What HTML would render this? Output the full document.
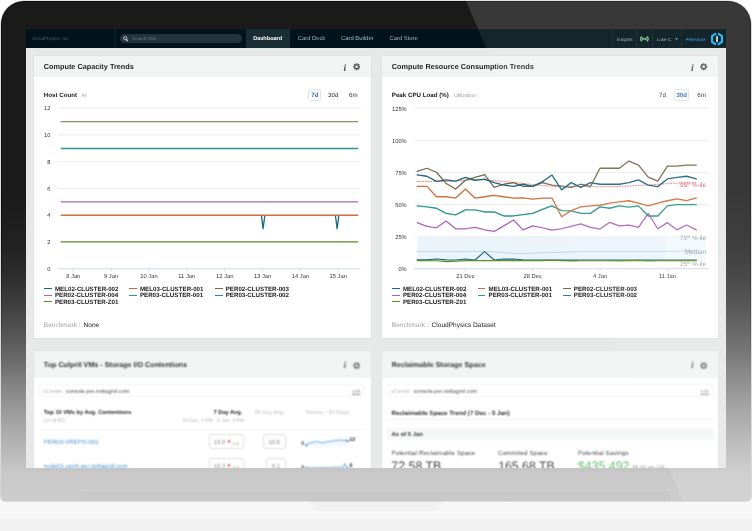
<!DOCTYPE html>
<html lang="en">
<head>
<meta charset="utf-8">
<title>CloudPhysics Dashboard</title>
<style>
html,body{margin:0;padding:0}
body{width:752px;height:531px;overflow:hidden;position:relative;background:#fff;
 font-family:"Liberation Sans",sans-serif;text-rendering:geometricPrecision;-webkit-font-smoothing:antialiased}
.abs,.t{position:absolute}
.t{white-space:nowrap}
#floor{left:0;top:470px;width:752px;height:61px;background:linear-gradient(#f7f7f7 0,#f7f7f7 48.5px,#f1f1f1 49.5px,#f1f1f1 61px)}
#foot{left:311px;top:500px;width:130px;height:11px;background:#f1f1f1;border-radius:0 0 8px 8px}
#laptop{left:1px;top:1px;width:750px;height:500px;box-sizing:border-box;border-radius:23px 23px 4px 4px;overflow:hidden;box-shadow:0 0 0 .6px rgba(140,140,140,.5);
 background:linear-gradient(to bottom,#1a1a1a 0px,#1a1a1a 188px,#222222 246px,#2d2d2d 274px,#404040 306px,#535353 331px,#686868 356px,#808080 381px,#979797 406px,#ababab 431px,#bdbdbd 456px,#c7c7c7 470px,#cbcbcb 482px,#cccccc 499px)}
#rim{left:0;top:0;width:750px;height:500px;box-sizing:border-box;border-radius:23px 23px 4px 4px;border:1px solid rgba(0,0,0,.6);-webkit-mask-image:linear-gradient(to bottom,#000 0,#000 40%,transparent 75%);mask-image:linear-gradient(to bottom,#000 0,#000 40%,transparent 75%)}
#lip{left:79px;top:490px;width:591px;height:10px;background:rgba(0,0,0,.018);box-shadow:0 -0.5px 0 rgba(255,255,255,.25);border-radius:3px 3px 0 0}
#screen{left:25.5px;top:29px;width:700.5px;height:439px;overflow:hidden;background:#e7e9e8}
#in{left:-25.5px;top:-29px;width:752px;height:531px;will-change:transform}
#nav{left:25.5px;top:29px;width:700.5px;height:18.8px;background:#01131a}
.card{background:#fff;border-radius:1.5px;overflow:hidden;box-shadow:0 0 0 1px rgba(0,0,0,.022)}
.chead{left:0;top:0;right:0;height:20px;background:#f2f4f3}
.box{box-sizing:border-box;border:1px solid #e7e7e7;border-radius:2px;background:#fff}
#glare{left:0;top:0;width:752px;height:531px;pointer-events:none}
</style>
</head>
<body>
<svg width="0" height="0" style="position:absolute"><defs><filter id="soft" x="0" y="0" width="100%" height="100%" color-interpolation-filters="sRGB"><feConvolveMatrix order="3" kernelMatrix="1 2 1 2 4 2 1 2 1" divisor="16" edgeMode="duplicate" preserveAlpha="false"/></filter></defs></svg>
<div id="floor" class="abs"></div>
<div id="foot" class="abs"></div>
<div id="laptop" class="abs">
  <div id="rim" class="abs"></div>
  <div id="lip" class="abs"></div>
</div>
<div id="screen" class="abs"><div id="in" class="abs">
<div id="nav" class="abs"></div><div class="abs" style="left:25.5px;top:29px;width:700.5px;height:1px;background:rgba(27,27,27,.45)"></div><div class="abs" style="left:114.2px;top:29px;width:1.6px;height:18.5px;background:#0a1e26"></div><div class="t" style="left:32px;top:36px;font-size:4.6px;line-height:6px;color:#4c5d66;">CloudPhysics, Inc.</div><div class="abs" style="left:119.5px;top:33.6px;width:122px;height:9.6px;border-radius:5px;background:#22343c"></div><svg class="abs" style="left:122.6px;top:36.0px" width="5.9" height="5.9" viewBox="0 0 13 13"><circle cx="5" cy="5" r="3.6" fill="none" stroke="#dfe6ea" stroke-width="1.9"/><path d="M7.8 7.8L11.6 11.6" stroke="#dfe6ea" stroke-width="2.3" stroke-linecap="round"/></svg><div class="t" style="left:132.3px;top:36px;font-size:4.4px;line-height:6px;color:#68798a;">Search VMs</div><div class="abs" style="left:246px;top:29px;width:44px;height:18.5px;background:#1a2c34"></div><div class="t" style="left:253.2px;top:36px;font-size:5.55px;line-height:7px;font-weight:bold;color:#fff;">Dashboard</div><div class="t" style="left:297.8px;top:35px;font-size:5.8px;line-height:8px;color:#aeb9bf;">Card Deck</div><div class="t" style="left:340.9px;top:35px;font-size:5.9px;line-height:8px;color:#aeb9bf;">Card Builder</div><div class="t" style="left:389.6px;top:35px;font-size:5.8px;line-height:8px;color:#aeb9bf;">Card Store</div><div class="abs" style="left:612.4px;top:29px;width:1px;height:18.5px;background:#0d2028"></div><div class="abs" style="left:636.0px;top:29px;width:1px;height:18.5px;background:#0d2028"></div><div class="abs" style="left:652.3px;top:29px;width:1px;height:18.5px;background:#0d2028"></div><div class="abs" style="left:681.3px;top:29px;width:1px;height:18.5px;background:#0d2028"></div><div class="t" style="left:616.8px;top:37px;font-size:4.6px;line-height:6px;color:#9ba7ae;">Insights</div><svg class="abs" style="left:640.4px;top:36.4px" width="8.8" height="5.8" viewBox="0 0 88 58"><g fill="none" stroke="#7cc68a" stroke-width="13" stroke-linecap="round"><path d="M14 8C4 22 4 36 14 50"/><path d="M74 8C84 22 84 36 74 50"/></g><path d="M22 10L44 26L66 10V48L44 32L22 48Z" fill="#7cc68a"/></svg><div class="t" style="left:656.9px;top:37px;font-size:4.45px;line-height:6px;color:#9ba7ae;">Luke C.</div><svg class="abs" style="left:674.8px;top:38.4px" width="3" height="2.4" viewBox="0 0 30 24"><path d="M0 0H30L15 24Z" fill="#2d93df"/></svg><div class="t" style="left:685.8px;top:37px;font-size:4.2px;line-height:5px;color:#2a9ff0;">PREMIUM</div><svg class="abs" style="left:709.3px;top:31.3px" width="16" height="16" viewBox="-8 -8 16 16"><g fill="none" stroke="#19b4ee" stroke-width="2.1"><path d="M-0.9 -5.5L-4.95 -3V3L-0.9 5.5"/><path d="M0.9 -5.5L4.95 -3V3L0.9 5.5"/></g><rect x="-0.85" y="-2.9" width="1.7" height="6" fill="#c4ecff"/></svg><div class="abs card" style="left:33.8px;top:56px;width:337.2px;height:282.3px"><div class="abs chead" style="height:20.6px"></div></div><div class="t" style="left:43.8px;top:62px;font-size:7.3px;line-height:9px;font-weight:bold;color:#1f1f1f;">Compute Capacity Trends</div><div class="t" style="left:343.4px;top:62px;font-size:9.6px;line-height:13px;font-family:'Liberation Serif',serif;font-style:italic;font-weight:bold;color:#4a4a4a;">i</div><svg class="abs" style="left:352.9px;top:63.2px" width="7.4" height="7.4" viewBox="0 0 16 16"><g fill="#5a5a5a"><circle cx="8" cy="8" r="5.5"/><rect x="6.3" y="0.3" width="3.4" height="3.6" rx=".5" transform="rotate(0 8 8)"/><rect x="6.3" y="0.3" width="3.4" height="3.6" rx=".5" transform="rotate(45 8 8)"/><rect x="6.3" y="0.3" width="3.4" height="3.6" rx=".5" transform="rotate(90 8 8)"/><rect x="6.3" y="0.3" width="3.4" height="3.6" rx=".5" transform="rotate(135 8 8)"/><rect x="6.3" y="0.3" width="3.4" height="3.6" rx=".5" transform="rotate(180 8 8)"/><rect x="6.3" y="0.3" width="3.4" height="3.6" rx=".5" transform="rotate(225 8 8)"/><rect x="6.3" y="0.3" width="3.4" height="3.6" rx=".5" transform="rotate(270 8 8)"/><rect x="6.3" y="0.3" width="3.4" height="3.6" rx=".5" transform="rotate(315 8 8)"/></g><circle cx="8" cy="8" r="2.8" fill="#f2f4f3"/></svg><div class="abs card" style="left:381.8px;top:56px;width:336.7px;height:282.3px"><div class="abs chead" style="height:20.6px"></div></div><div class="t" style="left:391.8px;top:62px;font-size:7.3px;line-height:9px;font-weight:bold;color:#1f1f1f;">Compute Resource Consumption Trends</div><div class="t" style="left:690.9px;top:62px;font-size:9.6px;line-height:13px;font-family:'Liberation Serif',serif;font-style:italic;font-weight:bold;color:#4a4a4a;">i</div><svg class="abs" style="left:700.4px;top:63.2px" width="7.4" height="7.4" viewBox="0 0 16 16"><g fill="#5a5a5a"><circle cx="8" cy="8" r="5.5"/><rect x="6.3" y="0.3" width="3.4" height="3.6" rx=".5" transform="rotate(0 8 8)"/><rect x="6.3" y="0.3" width="3.4" height="3.6" rx=".5" transform="rotate(45 8 8)"/><rect x="6.3" y="0.3" width="3.4" height="3.6" rx=".5" transform="rotate(90 8 8)"/><rect x="6.3" y="0.3" width="3.4" height="3.6" rx=".5" transform="rotate(135 8 8)"/><rect x="6.3" y="0.3" width="3.4" height="3.6" rx=".5" transform="rotate(180 8 8)"/><rect x="6.3" y="0.3" width="3.4" height="3.6" rx=".5" transform="rotate(225 8 8)"/><rect x="6.3" y="0.3" width="3.4" height="3.6" rx=".5" transform="rotate(270 8 8)"/><rect x="6.3" y="0.3" width="3.4" height="3.6" rx=".5" transform="rotate(315 8 8)"/></g><circle cx="8" cy="8" r="2.8" fill="#f2f4f3"/></svg><div class="t" style="left:43.8px;top:92px;font-size:6.2px;line-height:8px;font-weight:bold;color:#1c1c1c;">Host Count</div><div class="t" style="left:81.5px;top:93px;font-size:4.6px;line-height:6px;color:#9a9a9a;">All</div><div class="abs box" style="left:308.35px;top:89px;width:12.5px;height:12px;border-color:#e4e4e4"></div><div class="t" style="left:311.3px;top:92px;font-size:6.1px;line-height:8px;font-weight:bold;color:#2a6fb8;">7d</div><div class="t" style="left:328px;top:92px;font-size:6.2px;line-height:8px;color:#333;">30d</div><div class="t" style="left:349px;top:92px;font-size:6.2px;line-height:8px;color:#333;">6m</div><svg class="abs" style="left:0;top:0" width="752" height="531" viewBox="0 0 752 531" fill="none"><g transform="translate(0 0.45)"><path d="M58 107.5H360.5" stroke="#e7e7e7" stroke-width="0.8"/><path d="M58 134.4H360.5" stroke="#e7e7e7" stroke-width="0.8"/><path d="M58 161.2H360.5" stroke="#e7e7e7" stroke-width="0.8"/><path d="M58 188.0H360.5" stroke="#e7e7e7" stroke-width="0.8"/><path d="M58 214.8H360.5" stroke="#e7e7e7" stroke-width="0.8"/><path d="M58 241.6H360.5" stroke="#e7e7e7" stroke-width="0.8"/><path d="M58 268.3H360.5" stroke="#c9d5e4" stroke-width="0.9"/><path d="M73.25 268.3V270.6" stroke="#c9d5e4" stroke-width="0.9"/><path d="M111.11 268.3V270.6" stroke="#c9d5e4" stroke-width="0.9"/><path d="M148.97 268.3V270.6" stroke="#c9d5e4" stroke-width="0.9"/><path d="M186.83 268.3V270.6" stroke="#c9d5e4" stroke-width="0.9"/><path d="M224.69 268.3V270.6" stroke="#c9d5e4" stroke-width="0.9"/><path d="M262.55 268.3V270.6" stroke="#c9d5e4" stroke-width="0.9"/><path d="M300.41 268.3V270.6" stroke="#c9d5e4" stroke-width="0.9"/><path d="M338.27 268.3V270.6" stroke="#c9d5e4" stroke-width="0.9"/><path d="M261.4 214.81L263.1 228.2L264.9 214.81M335.4 214.81L337.1 228.2L338.9 214.81" stroke="#1b6783" stroke-width="1.3" stroke-linejoin="round"/><path d="M60.75 121.29H358" stroke="#766a45" stroke-width="1.2"/><path d="M60.75 148.01H358" stroke="#2b9687" stroke-width="1.5"/><path d="M60.75 201.45H358" stroke="#b05fbb" stroke-width="1.15"/><path d="M60.75 214.81H358" stroke="#d06f3b" stroke-width="1.35"/><path d="M60.75 241.53H358" stroke="#5f8f1f" stroke-width="1.25"/></g></svg><div class="t" style="right:701.7px;top:106px;font-size:5.7px;line-height:7px;color:#333;">12</div><div class="t" style="right:701.7px;top:133px;font-size:5.7px;line-height:7px;color:#333;">10</div><div class="t" style="right:701.7px;top:160px;font-size:5.7px;line-height:7px;color:#333;">8</div><div class="t" style="right:701.7px;top:187px;font-size:5.7px;line-height:7px;color:#333;">6</div><div class="t" style="right:701.7px;top:213px;font-size:5.7px;line-height:7px;color:#333;">4</div><div class="t" style="right:701.7px;top:240px;font-size:5.7px;line-height:7px;color:#333;">2</div><div class="t" style="right:701.7px;top:267px;font-size:5.7px;line-height:7px;color:#333;">0</div><div class="t" style="left:-26.75px;width:200px;text-align:center;top:273px;font-size:5.8px;line-height:8px;color:#333;">8 Jan</div><div class="t" style="left:11.11px;width:200px;text-align:center;top:273px;font-size:5.8px;line-height:8px;color:#333;">9 Jan</div><div class="t" style="left:48.97px;width:200px;text-align:center;top:273px;font-size:5.8px;line-height:8px;color:#333;">10 Jan</div><div class="t" style="left:86.83px;width:200px;text-align:center;top:273px;font-size:5.8px;line-height:8px;color:#333;">11 Jan</div><div class="t" style="left:124.69px;width:200px;text-align:center;top:273px;font-size:5.8px;line-height:8px;color:#333;">12 Jan</div><div class="t" style="left:162.55px;width:200px;text-align:center;top:273px;font-size:5.8px;line-height:8px;color:#333;">13 Jan</div><div class="t" style="left:200.41px;width:200px;text-align:center;top:273px;font-size:5.8px;line-height:8px;color:#333;">14 Jan</div><div class="t" style="left:238.27px;width:200px;text-align:center;top:273px;font-size:5.8px;line-height:8px;color:#333;">15 Jan</div><div class="abs" style="left:44.2px;top:288px;width:7.5px;height:1px;background:#1b6783"></div><div class="t" style="left:54.900000000000006px;top:286px;font-size:6.2px;line-height:8px;font-weight:bold;color:#1c1c1c;">MEL02-CLUSTER-002</div><div class="abs" style="left:129.2px;top:288px;width:7.5px;height:1px;background:#d06f3b"></div><div class="t" style="left:139.89999999999998px;top:286px;font-size:6.2px;line-height:8px;font-weight:bold;color:#1c1c1c;">MEL03-CLUSTER-001</div><div class="abs" style="left:215px;top:288px;width:7.5px;height:1px;background:#766a45"></div><div class="t" style="left:225.7px;top:286px;font-size:6.2px;line-height:8px;font-weight:bold;color:#1c1c1c;">PER02-CLUSTER-003</div><div class="abs" style="left:44.2px;top:295px;width:7.5px;height:1px;background:#b05fbb"></div><div class="t" style="left:54.900000000000006px;top:292px;font-size:6.2px;line-height:8px;font-weight:bold;color:#1c1c1c;">PER02-CLUSTER-004</div><div class="abs" style="left:129.2px;top:295px;width:7.5px;height:1px;background:#2b9687"></div><div class="t" style="left:139.89999999999998px;top:292px;font-size:6.2px;line-height:8px;font-weight:bold;color:#1c1c1c;">PER03-CLUSTER-001</div><div class="abs" style="left:215px;top:295px;width:7.5px;height:1px;background:#2f7fb5"></div><div class="t" style="left:225.7px;top:292px;font-size:6.2px;line-height:8px;font-weight:bold;color:#1c1c1c;">PER03-CLUSTER-002</div><div class="abs" style="left:44.2px;top:301px;width:7.5px;height:1px;background:#5f8f1f"></div><div class="t" style="left:54.900000000000006px;top:299px;font-size:6.2px;line-height:8px;font-weight:bold;color:#1c1c1c;">PER03-CLUSTER-Z01</div><div class="t" style="left:43.8px;top:321px;font-size:6.55px;line-height:9px;color:#a3a3a3;">Benchmark :</div><div class="t" style="left:83.6px;top:321px;font-size:6.55px;line-height:9px;color:#222;">None</div><div class="t" style="left:391.8px;top:92px;font-size:6.2px;line-height:8px;font-weight:bold;color:#1c1c1c;">Peak CPU Load (%)</div><div class="t" style="left:454px;top:93px;font-size:5.1px;line-height:7px;color:#9a9a9a;">Utilization</div><div class="t" style="left:659px;top:92px;font-size:6.2px;line-height:8px;color:#333;">7d</div><div class="abs box" style="left:673.85px;top:89px;width:15.5px;height:12px;border-color:#e4e4e4"></div><div class="t" style="left:676.4px;top:92px;font-size:6.1px;line-height:8px;font-weight:bold;color:#2a6fb8;">30d</div><div class="t" style="left:697.3px;top:92px;font-size:6.2px;line-height:8px;color:#333;">6m</div><svg class="abs" style="left:0;top:0" width="752" height="531" viewBox="0 0 752 531" fill="none"><g transform="translate(0 0.45)"><path d="M414.2 107.5H708.8" stroke="#e7e7e7" stroke-width="0.8"/><path d="M414.2 139.9H708.8" stroke="#e7e7e7" stroke-width="0.8"/><path d="M414.2 172.0H708.8" stroke="#e7e7e7" stroke-width="0.8"/><path d="M414.2 204.1H708.8" stroke="#e7e7e7" stroke-width="0.8"/><path d="M414.2 236.2H708.8" stroke="#e7e7e7" stroke-width="0.8"/><rect x="417.2" y="236.3" width="288.4" height="24.3" fill="#ecf4fb"/><rect x="665" y="236.3" width="40.6" height="24.3" fill="#f4f9fd"/><path d="M414.2 268.3H708.8" stroke="#c9d5e4" stroke-width="0.9"/><path d="M465.36 268.3V270.6" stroke="#c9d5e4" stroke-width="0.9"/><path d="M532.70 268.3V270.6" stroke="#c9d5e4" stroke-width="0.9"/><path d="M600.05 268.3V270.6" stroke="#c9d5e4" stroke-width="0.9"/><path d="M667.40 268.3V270.6" stroke="#c9d5e4" stroke-width="0.9"/><path d="M417.2 251.0L426.9 251.0L436.5 251.0L446.1 251.0L455.7 251.0L465.4 251.0L475.0 251.0L484.6 251.0L494.2 251.3L503.8 252.2L513.5 253.0L523.1 253.0L532.7 252.8L542.3 252.3L551.9 252.0L561.6 251.8L571.2 251.5L580.8 251.2L590.4 251.0L600.0 251.0L609.7 251.0L619.3 251.0L628.9 251.0L638.5 251.0L648.2 251.0L657.8 251.0L667.4 251.0L677.0 250.8L686.6 250.5L696.3 250.3" stroke="#b3d4ea" stroke-width="0.85" stroke-linejoin="round" stroke-linecap="round" /><path d="M417.2 181.0L426.9 181.0L436.5 181.0L446.1 181.0L455.7 180.8L465.4 179.6L475.0 179.4L484.6 179.4L494.2 180.2L503.8 181.0L513.5 182.0L523.1 183.0L532.7 184.0L542.3 185.0L551.9 185.8L561.6 186.2L571.2 186.2L580.8 186.2L590.4 186.2L600.0 186.2L609.7 186.2L619.3 186.0L628.9 185.6L638.5 185.0L648.2 184.4L657.8 183.8L667.4 183.2L677.0 182.6L686.6 182.2L696.3 182.2" stroke="#ee6a74" stroke-width="0.85" stroke-linejoin="round" stroke-linecap="round" stroke-dasharray="1.1 1.6" stroke-linecap="butt"/><path d="M417.2 222.2L426.9 225.9L436.5 227.3L446.1 220.6L455.7 228.3L465.4 228.3L475.0 227.0L484.6 229.4L494.2 231.0L503.8 225.4L513.5 219.5L523.1 229.4L532.7 225.4L542.3 227.3L551.9 229.6L561.6 228.3L571.2 225.9L580.8 223.5L590.4 227.0L600.0 228.6L609.7 221.9L619.3 225.4L628.9 224.6L638.5 227.0L648.2 212.9L657.8 228.3L667.4 222.2L677.0 229.4L686.6 224.6L696.3 229.4" stroke="#b05fbb" stroke-width="1.25" stroke-linejoin="round" stroke-linecap="round" /><path d="M417.2 205.4L426.9 206.5L436.5 207.8L446.1 212.9L455.7 214.5L465.4 209.4L475.0 209.4L484.6 211.5L494.2 211.5L503.8 215.5L513.5 215.5L523.1 214.2L532.7 212.9L542.3 209.0L551.9 205.4L561.6 210.2L571.2 210.5L580.8 212.9L590.4 212.9L600.0 206.4L609.7 207.8L619.3 205.4L628.9 206.7L638.5 205.4L648.2 215.5L657.8 215.5L667.4 205.4L677.0 204.1L686.6 204.1L696.3 204.1" stroke="#2b9687" stroke-width="1.35" stroke-linejoin="round" stroke-linecap="round" /><path d="M417.2 185.9L426.9 185.9L436.5 196.3L446.1 196.3L455.7 197.6L465.4 188.6L475.0 197.6L484.6 196.3L494.2 195.0L503.8 196.3L513.5 197.6L523.1 197.5L532.7 198.7L542.3 197.6L551.9 197.6L561.6 216.3L571.2 210.2L580.8 206.5L590.4 205.4L600.0 204.8L609.7 202.7L619.3 201.4L628.9 200.3L638.5 202.7L648.2 205.4L657.8 202.7L667.4 200.3L677.0 198.5L686.6 200.1L696.3 197.4" stroke="#d06f3b" stroke-width="1.35" stroke-linejoin="round" stroke-linecap="round" /><path d="M417.2 171.0L426.9 167.8L436.5 171.8L446.1 183.0L455.7 188.6L465.4 179.8L475.0 177.0L484.6 174.2L494.2 187.0L503.8 183.8L513.5 182.2L523.1 185.9L532.7 185.9L542.3 182.2L551.9 184.6L561.6 185.7L571.2 187.0L580.8 183.8L590.4 186.2L600.0 167.8L609.7 167.8L619.3 167.8L628.9 160.6L638.5 164.6L648.2 176.6L657.8 180.6L667.4 165.7L677.0 165.7L686.6 164.6L696.3 164.6" stroke="#766a45" stroke-width="1.3" stroke-linejoin="round" stroke-linecap="round" /><path d="M417.2 174.5L426.9 175.8L436.5 181.0L446.1 179.5L455.7 180.6L465.4 177.0L475.0 179.8L484.6 178.7L494.2 182.2L503.8 184.6L513.5 186.0L523.1 183.8L532.7 185.9L542.3 181.4L551.9 174.5L561.6 189.4L571.2 182.2L580.8 187.0L590.4 182.2L600.0 183.8L609.7 183.8L619.3 183.8L628.9 182.2L638.5 179.5L648.2 184.6L657.8 186.2L667.4 178.5L677.0 177.0L686.6 175.8L696.3 178.5" stroke="#1b6783" stroke-width="1.35" stroke-linejoin="round" stroke-linecap="round" /><path d="M417.2 259.3L426.9 259.3L436.5 258.6L446.1 259.4L455.7 259.6L465.4 258.6L475.0 259.6L484.6 251.2L494.2 259.6L503.8 258.6L513.5 258.6L523.1 259.4L532.7 259.6L542.3 259.6L551.9 259.6L561.6 259.6L571.2 259.6L580.8 259.6L590.4 259.6L600.0 259.6L609.7 259.6L619.3 259.6L628.9 259.6L638.5 259.6L648.2 259.6L657.8 259.6L667.4 259.6L677.0 259.6L686.6 259.6L696.3 259.6" stroke="#1b6783" stroke-width="1.15" stroke-linejoin="round" stroke-linecap="round" /><path d="M417.2 260.2L426.9 260.2L436.5 260.3L446.1 261.2L455.7 260.6L465.4 260.2L475.0 260.2L484.6 260.2L494.2 260.2L503.8 260.2L513.5 260.2L523.1 260.2L532.7 260.2L542.3 260.2L551.9 259.8L561.6 260.2L571.2 260.4L580.8 260.2L590.4 260.2L600.0 260.3L609.7 260.2L619.3 260.5L628.9 260.2L638.5 259.9L648.2 260.5L657.8 260.2L667.4 260.2L677.0 260.2L686.6 260.2L696.3 260.2" stroke="#5f8f1f" stroke-width="1.25" stroke-linejoin="round" stroke-linecap="round" /></g></svg><div class="t" style="right:345.4px;top:107px;font-size:5.7px;line-height:7px;color:#333;">125%</div><div class="t" style="right:345.4px;top:139px;font-size:5.7px;line-height:7px;color:#333;">100%</div><div class="t" style="right:345.4px;top:171px;font-size:5.7px;line-height:7px;color:#333;">75%</div><div class="t" style="right:345.4px;top:203px;font-size:5.7px;line-height:7px;color:#333;">50%</div><div class="t" style="right:345.4px;top:235px;font-size:5.7px;line-height:7px;color:#333;">25%</div><div class="t" style="right:345.4px;top:267px;font-size:5.7px;line-height:7px;color:#333;">0%</div><div class="t" style="left:365.36px;width:200px;text-align:center;top:273px;font-size:5.8px;line-height:8px;color:#333;">21 Dec</div><div class="t" style="left:432.7px;width:200px;text-align:center;top:273px;font-size:5.8px;line-height:8px;color:#333;">28 Dec</div><div class="t" style="left:500.05px;width:200px;text-align:center;top:273px;font-size:5.8px;line-height:8px;color:#333;">4 Jan</div><div class="t" style="left:567.4px;width:200px;text-align:center;top:273px;font-size:5.8px;line-height:8px;color:#333;">11 Jan</div><div class="t" style="right:46px;top:182px;font-size:6.3px;line-height:8px;color:#e25a66;">95<span style="font-size:3.9px;position:relative;top:-2.1px">th</span> %-ile</div><div class="t" style="right:46px;top:235px;font-size:6.3px;line-height:8px;color:#9aa0a6;">75<span style="font-size:3.9px;position:relative;top:-2.1px">th</span> %-ile</div><div class="t" style="right:46px;top:249px;font-size:6.4px;line-height:8px;color:#9aa0a6;">Median</div><div class="t" style="right:46px;top:261px;font-size:6.3px;line-height:8px;color:#9aa0a6;">25<span style="font-size:3.9px;position:relative;top:-2.1px">th</span> %-ile</div><div class="abs" style="left:392.2px;top:288px;width:7.5px;height:1px;background:#1b6783"></div><div class="t" style="left:402.9px;top:286px;font-size:6.2px;line-height:8px;font-weight:bold;color:#1c1c1c;">MEL02-CLUSTER-002</div><div class="abs" style="left:477.9px;top:288px;width:7.5px;height:1px;background:#d06f3b"></div><div class="t" style="left:488.59999999999997px;top:286px;font-size:6.2px;line-height:8px;font-weight:bold;color:#1c1c1c;">MEL03-CLUSTER-001</div><div class="abs" style="left:563.1px;top:288px;width:7.5px;height:1px;background:#766a45"></div><div class="t" style="left:573.8000000000001px;top:286px;font-size:6.2px;line-height:8px;font-weight:bold;color:#1c1c1c;">PER02-CLUSTER-003</div><div class="abs" style="left:392.2px;top:295px;width:7.5px;height:1px;background:#b05fbb"></div><div class="t" style="left:402.9px;top:292px;font-size:6.2px;line-height:8px;font-weight:bold;color:#1c1c1c;">PER02-CLUSTER-004</div><div class="abs" style="left:477.9px;top:295px;width:7.5px;height:1px;background:#2b9687"></div><div class="t" style="left:488.59999999999997px;top:292px;font-size:6.2px;line-height:8px;font-weight:bold;color:#1c1c1c;">PER03-CLUSTER-001</div><div class="abs" style="left:563.1px;top:295px;width:7.5px;height:1px;background:#2f7fb5"></div><div class="t" style="left:573.8000000000001px;top:292px;font-size:6.2px;line-height:8px;font-weight:bold;color:#1c1c1c;">PER03-CLUSTER-002</div><div class="abs" style="left:392.2px;top:301px;width:7.5px;height:1px;background:#5f8f1f"></div><div class="t" style="left:402.9px;top:299px;font-size:6.2px;line-height:8px;font-weight:bold;color:#1c1c1c;">PER03-CLUSTER-Z01</div><div class="t" style="left:391.8px;top:321px;font-size:6.55px;line-height:9px;color:#a3a3a3;">Benchmark :</div><div class="t" style="left:431.6px;top:321px;font-size:6.55px;line-height:9px;color:#222;">CloudPhysics Dataset</div><div class="abs" id="lower" style="left:0;top:0;width:752px;height:531px;filter:url(#soft)"><div class="abs card" style="left:33.8px;top:351.0px;width:337.2px;height:140px"><div class="abs chead" style="height:26.6px"></div></div><div class="t" style="left:43.8px;top:360px;font-size:7.2px;line-height:9px;font-weight:bold;color:#333;">Top Culprit VMs - Storage I/O Contentions</div><div class="t" style="left:343.4px;top:359px;font-size:9.6px;line-height:13px;font-family:'Liberation Serif',serif;font-style:italic;font-weight:bold;color:#6a6a6a;">i</div><svg class="abs" style="left:352.9px;top:361.5px" width="7.4" height="7.4" viewBox="0 0 16 16"><g fill="#787878"><circle cx="8" cy="8" r="5.5"/><rect x="6.3" y="0.3" width="3.4" height="3.6" rx=".5" transform="rotate(0 8 8)"/><rect x="6.3" y="0.3" width="3.4" height="3.6" rx=".5" transform="rotate(45 8 8)"/><rect x="6.3" y="0.3" width="3.4" height="3.6" rx=".5" transform="rotate(90 8 8)"/><rect x="6.3" y="0.3" width="3.4" height="3.6" rx=".5" transform="rotate(135 8 8)"/><rect x="6.3" y="0.3" width="3.4" height="3.6" rx=".5" transform="rotate(180 8 8)"/><rect x="6.3" y="0.3" width="3.4" height="3.6" rx=".5" transform="rotate(225 8 8)"/><rect x="6.3" y="0.3" width="3.4" height="3.6" rx=".5" transform="rotate(270 8 8)"/><rect x="6.3" y="0.3" width="3.4" height="3.6" rx=".5" transform="rotate(315 8 8)"/></g><circle cx="8" cy="8" r="2.8" fill="#f2f4f3"/></svg><div class="abs card" style="left:381.8px;top:351.0px;width:336.7px;height:140px"><div class="abs chead" style="height:26.6px"></div></div><div class="t" style="left:391.8px;top:360px;font-size:7.2px;line-height:9px;font-weight:bold;color:#333;">Reclaimable Storage Space</div><div class="t" style="left:690.9px;top:359px;font-size:9.6px;line-height:13px;font-family:'Liberation Serif',serif;font-style:italic;font-weight:bold;color:#6a6a6a;">i</div><svg class="abs" style="left:700.4px;top:361.5px" width="7.4" height="7.4" viewBox="0 0 16 16"><g fill="#787878"><circle cx="8" cy="8" r="5.5"/><rect x="6.3" y="0.3" width="3.4" height="3.6" rx=".5" transform="rotate(0 8 8)"/><rect x="6.3" y="0.3" width="3.4" height="3.6" rx=".5" transform="rotate(45 8 8)"/><rect x="6.3" y="0.3" width="3.4" height="3.6" rx=".5" transform="rotate(90 8 8)"/><rect x="6.3" y="0.3" width="3.4" height="3.6" rx=".5" transform="rotate(135 8 8)"/><rect x="6.3" y="0.3" width="3.4" height="3.6" rx=".5" transform="rotate(180 8 8)"/><rect x="6.3" y="0.3" width="3.4" height="3.6" rx=".5" transform="rotate(225 8 8)"/><rect x="6.3" y="0.3" width="3.4" height="3.6" rx=".5" transform="rotate(270 8 8)"/><rect x="6.3" y="0.3" width="3.4" height="3.6" rx=".5" transform="rotate(315 8 8)"/></g><circle cx="8" cy="8" r="2.8" fill="#f2f4f3"/></svg><div class="abs box" style="left:38.7px;top:383.7px;width:326.5px;height:13.8px;border-color:#f3f3f3"></div><div class="t" style="left:43.1px;top:389px;font-size:5.4px;line-height:7px;color:#b5b5b5;">vCenter:</div><div class="t" style="left:65.7px;top:389px;font-size:5.6px;line-height:7px;color:#555;">console.per.zettagrid.com</div><div class="t" style="right:391.6px;top:389px;font-size:5.2px;line-height:7px;color:#9a9a9a;text-decoration:underline;">edit</div><div class="t" style="left:43.8px;top:410px;font-size:5.7px;line-height:7px;font-weight:bold;color:#2a2a2a;">Top 10 VMs by Avg. Contentions</div><div class="t" style="left:43.6px;top:418px;font-size:5.0px;line-height:6px;color:#b0b0b0;">(10 of 87)</div><div class="t" style="right:509.8px;top:410px;font-size:5.7px;line-height:7px;font-weight:bold;color:#2a2a2a;">7 Day Avg.</div><div class="t" style="right:508.2px;top:418px;font-size:5.0px;line-height:6px;color:#b8b8b8;">29 Dec, 4 PM - 5 Jan, 4 PM</div><div class="t" style="left:254.5px;top:410px;font-size:5.6px;line-height:7px;color:#c2c2c2;">30 Day Avg.</div><div class="t" style="left:305.5px;top:410px;font-size:5.7px;line-height:7px;color:#c2c2c2;">History - 30 Days</div><div class="abs" style="left:38.7px;top:429.3px;width:326.5px;height:1px;background:#f0f0f0"></div><div class="t" style="left:43.8px;top:439px;font-size:6.1px;line-height:8px;color:#4d94d6;">PER03-VREPO-001</div><div class="abs box" style="left:208.7px;top:433.7px;width:35.6px;height:15.8px;border-color:#dedede;border-radius:2.5px"></div><div class="t" style="left:213.6px;top:439px;font-size:6.0px;line-height:8px;color:#8a8a8a;">13.9</div><div class="t" style="left:227.4px;top:438px;font-size:7.5px;line-height:10px;font-weight:bold;color:#e23b3b;">*</div><div class="t" style="left:232.6px;top:441px;font-size:4.4px;line-height:6px;color:#9a9a9a;">1.8</div><div class="abs box" style="left:262.5px;top:433.7px;width:23.3px;height:15.8px;border-color:#dedede;border-radius:2.5px"></div><div class="t" style="left:174.1px;width:200px;text-align:center;top:439px;font-size:6.0px;line-height:8px;color:#8a8a8a;">10.6</div><div class="t" style="left:301.2px;top:441px;font-size:5.2px;line-height:7px;font-weight:bold;color:#333;">0</div><div class="t" style="left:349.2px;top:437px;font-size:5.4px;line-height:7px;font-weight:bold;color:#222;">12</div><svg class="abs" style="left:0;top:0" width="752" height="531" viewBox="0 0 752 531"><path d="M306.3 445.4L307.7 443.8L309.1 443.0L310.6 443.4L312.0 441.8L313.4 442.8L314.8 442.0L316.3 441.0L317.7 442.2L319.1 441.6L320.5 442.6L322.0 442.4L323.4 443.0L324.8 442.0L326.2 442.4L327.7 441.4L329.1 441.8L330.5 440.6L331.9 442.0L333.4 440.8L334.8 440.0L336.2 440.8L337.6 440.0L339.1 440.4L340.5 439.8L341.9 441.0L343.3 440.0L344.8 441.2L346.2 439.4L347.6 441.2L347.6 447.59999999999997L306.3 447.59999999999997Z" fill="#f5f9fd" stroke="none"/><path d="M306.3 445.4L307.7 443.8L309.1 443.0L310.6 443.4L312.0 441.8L313.4 442.8L314.8 442.0L316.3 441.0L317.7 442.2L319.1 441.6L320.5 442.6L322.0 442.4L323.4 443.0L324.8 442.0L326.2 442.4L327.7 441.4L329.1 441.8L330.5 440.6L331.9 442.0L333.4 440.8L334.8 440.0L336.2 440.8L337.6 440.0L339.1 440.4L340.5 439.8L341.9 441.0L343.3 440.0L344.8 441.2L346.2 439.4L347.6 441.2" fill="none" stroke="#4a98d8" stroke-width="0.9" stroke-linejoin="round"/><circle cx="306.3" cy="445.4" r="1.1" fill="#3f8fd3"/><circle cx="347.6" cy="441.2" r="1.1" fill="#3f8fd3"/><path d="M306.3 468.2L307.7 467.9L309.1 467.8L310.6 468.0L312.0 467.7L313.4 467.9L314.8 467.6L316.3 467.9L317.7 467.7L319.1 467.8L320.5 467.5L322.0 467.8L323.4 467.6L324.8 467.7L326.2 467.4L327.7 467.7L329.1 467.5L330.5 467.3L331.9 467.6L333.4 467.3L334.8 467.0L336.2 467.5L337.6 467.2L339.1 467.4L340.5 467.0L341.9 467.3L343.3 466.7L344.8 463.6L346.2 466.8L347.6 467.8L347.6 470.4L306.3 470.4Z" fill="#f5f9fd" stroke="none"/><path d="M306.3 468.2L307.7 467.9L309.1 467.8L310.6 468.0L312.0 467.7L313.4 467.9L314.8 467.6L316.3 467.9L317.7 467.7L319.1 467.8L320.5 467.5L322.0 467.8L323.4 467.6L324.8 467.7L326.2 467.4L327.7 467.7L329.1 467.5L330.5 467.3L331.9 467.6L333.4 467.3L334.8 467.0L336.2 467.5L337.6 467.2L339.1 467.4L340.5 467.0L341.9 467.3L343.3 466.7L344.8 463.6L346.2 466.8L347.6 467.8" fill="none" stroke="#4a98d8" stroke-width="0.9" stroke-linejoin="round"/><circle cx="306.3" cy="468.2" r="1.1" fill="#3f8fd3"/><circle cx="347.6" cy="467.8" r="1.1" fill="#3f8fd3"/></svg><div class="t" style="left:43.8px;top:463px;font-size:6.1px;line-height:8px;color:#4d94d6;">node01.ceph.per.zettagrid.com</div><div class="abs box" style="left:208.7px;top:457.6px;width:35.6px;height:15.8px;border-color:#dedede;border-radius:2.5px"></div><div class="t" style="left:213.6px;top:463px;font-size:6.0px;line-height:8px;color:#8a8a8a;">10.3</div><div class="t" style="left:227.4px;top:462px;font-size:7.5px;line-height:10px;font-weight:bold;color:#e23b3b;">*</div><div class="t" style="left:232.6px;top:465px;font-size:4.4px;line-height:6px;color:#9a9a9a;">3.4</div><div class="abs box" style="left:266px;top:457.6px;width:19.8px;height:15.8px;border-color:#dedede;border-radius:2.5px"></div><div class="t" style="left:175.9px;width:200px;text-align:center;top:463px;font-size:6.0px;line-height:8px;color:#8a8a8a;">6.1</div><div class="t" style="left:301.2px;top:465px;font-size:5.2px;line-height:7px;font-weight:bold;color:#333;">0</div><div class="t" style="left:349.6px;top:463px;font-size:5.4px;line-height:7px;font-weight:bold;color:#222;">6</div><div class="abs box" style="left:386.5px;top:383.7px;width:327.2px;height:13.8px;border-color:#f3f3f3"></div><div class="t" style="left:390.9px;top:389px;font-size:5.4px;line-height:7px;color:#b5b5b5;">vCenter:</div><div class="t" style="left:413.5px;top:389px;font-size:5.6px;line-height:7px;color:#555;">console.per.zettagrid.com</div><div class="t" style="right:43.1px;top:389px;font-size:5.2px;line-height:7px;color:#9a9a9a;text-decoration:underline;">edit</div><div class="t" style="left:391.5px;top:410px;font-size:6.2px;line-height:8px;font-weight:bold;color:#333;">Reclaimable Space Trend (7 Dec - 5 Jan)</div><div class="abs" style="left:386.5px;top:419.4px;width:327.2px;height:1px;background:#f0f0f0"></div><div class="abs" style="left:386.5px;top:428.2px;width:327.2px;height:11.8px;background:#f6f7f7"></div><div class="t" style="left:391.5px;top:431px;font-size:5.9px;line-height:8px;font-weight:bold;color:#3a3a3a;">As of 5 Jan</div><div class="t" style="left:391.5px;top:450px;font-size:6.2px;line-height:8px;color:#444;letter-spacing:.18px;">Potential Reclaimable Space</div><div class="t" style="left:498px;top:450px;font-size:6.2px;line-height:8px;color:#444;letter-spacing:.18px;">Commited Space</div><div class="t" style="left:578px;top:450px;font-size:6.2px;line-height:8px;color:#444;letter-spacing:.18px;">Potential Savings</div><div class="t" style="left:391.3px;top:458px;font-size:12.4px;line-height:17px;color:#4a4a4a;">72.58 TB</div><div class="t" style="left:498.2px;top:458px;font-size:12.3px;line-height:17px;color:#4a4a4a;">165.68 TB</div><div class="t" style="left:577.8px;top:458px;font-size:12.4px;line-height:17px;color:#6cc070;">$435,492</div><div class="t" style="left:632.5px;top:465px;font-size:5.4px;line-height:7px;color:#9a9a9a;">$6.00 per GB</div></div></div></div>
<svg id="glare" class="abs" width="752" height="531" viewBox="0 0 752 531"><defs><clipPath id="lc"><path clip-rule="evenodd" d="M1 501V24A23 23 0 0 1 24 1H728A23 23 0 0 1 751 24V497A4 4 0 0 1 747 501ZM25.5 29H726V468H25.5Z"/></clipPath><clipPath id="sc"><rect x="25.5" y="29" width="700.5" height="439"/></clipPath></defs><path clip-path="url(#lc)" d="M465.5 0L683 501H752V0Z" fill="#fff" fill-opacity="0.135"/><path clip-path="url(#sc)" d="M465.5 0L683 501H752V0Z" fill="#fff" fill-opacity="0.08"/></svg>
</body>
</html>
